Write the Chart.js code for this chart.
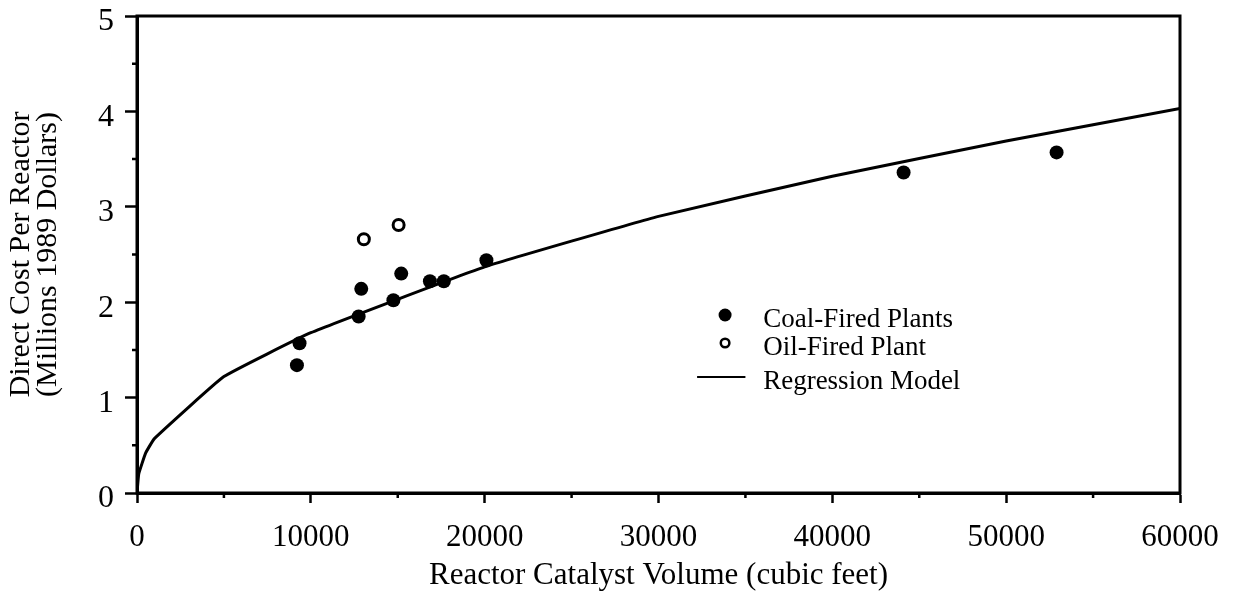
<!DOCTYPE html>
<html>
<head>
<meta charset="utf-8">
<script src="https://cdn.jsdelivr.net/npm/chart.js@4/dist/chart.umd.min.js"></script>
<style>
  html, body { margin: 0; padding: 0; background: #fff; }
  #wrap { width: 1236px; height: 594px; }
</style>
</head>
<body>
<div id="wrap"><canvas id="myChart" width="1236" height="594"></canvas></div>
<script>
// データ
var coalX = [9200, 9350, 12750, 12900, 14750, 15200, 16850, 17650, 20100, 44100, 52900];
var coalY = [1.34, 1.57, 1.85, 2.14, 2.02, 2.30, 2.22, 2.22, 2.44, 3.36, 3.57];
var oilX = [13050, 15050];
var oilY = [2.66, 2.81];
var modelX = [0, 100, 500, 1000, 5000, 10000, 20000, 30000, 40000, 50000, 60000];
var modelY = [0, 0.20, 0.42, 0.57, 1.22, 1.68, 2.37, 2.90, 3.32, 3.69, 4.03];
var xTicks = [0, 10000, 20000, 30000, 40000, 50000, 60000];
var yTicks = [0, 1, 2, 3, 4, 5];
var legendLabels = ["Coal-Fired Plants", "Oil-Fired Plant", "Regression Model"];

function toPoints(xs, ys) {
  var pts = [];
  for (var i = 0; i < xs.length; i++) pts.push({ x: xs[i], y: ys[i] });
  return pts;
}

var serif = "'Liberation Serif', 'DejaVu Serif', serif";

// 枠・補助目盛・凡例を描く
var framePlugin = {
  id: 'frame',
  afterDraw: function(chart) {
    var ctx = chart.ctx, a = chart.chartArea;
    var xs = chart.scales.x, ys = chart.scales.y;
    ctx.save();
    ctx.strokeStyle = '#000';
    ctx.lineWidth = 3;
    ctx.strokeRect(a.left, a.top, a.right - a.left, a.bottom - a.top);

    // 補助目盛
    ctx.lineWidth = 2.5;
    ctx.beginPath();
    for (var i = 0; i < xTicks.length - 1; i++) {
      var px = xs.getPixelForValue((xTicks[i] + xTicks[i + 1]) / 2);
      ctx.moveTo(px, a.bottom);
      ctx.lineTo(px, a.bottom + 5);
    }
    for (var j = 0; j < yTicks.length - 1; j++) {
      var py = ys.getPixelForValue((yTicks[j] + yTicks[j + 1]) / 2);
      ctx.moveTo(a.left, py);
      ctx.lineTo(a.left - 5, py);
    }
    ctx.stroke();

    // 凡例（データ座標で位置決め）
    var lx = xs.getPixelForValue(33830), tx = xs.getPixelForValue(36020);
    var rows = [ys.getPixelForValue(1.74), ys.getPixelForValue(1.447), ys.getPixelForValue(1.09)];
    ctx.font = "27px " + serif;
    ctx.fillStyle = '#000';
    ctx.textBaseline = 'alphabetic';
    ctx.beginPath();
    ctx.arc(lx, ys.getPixelForValue(1.866), 6.5, 0, Math.PI * 2);
    ctx.fill();
    ctx.beginPath();
    ctx.lineWidth = 2.5;
    ctx.arc(lx, ys.getPixelForValue(1.572), 4.3, 0, Math.PI * 2);
    ctx.stroke();
    ctx.beginPath();
    ctx.lineWidth = 2;
    ctx.moveTo(xs.getPixelForValue(32220), ys.getPixelForValue(1.216));
    ctx.lineTo(xs.getPixelForValue(35000), ys.getPixelForValue(1.216));
    ctx.stroke();
    for (var k = 0; k < legendLabels.length; k++) {
      ctx.fillText(legendLabels[k], tx, rows[k]);
    }
    ctx.restore();
  }
};

var ctx = document.getElementById("myChart").getContext("2d");
var myChart = new Chart(ctx, {
  type: 'scatter',
  data: {
    datasets: [
      {
        label: legendLabels[2],
        type: 'line',
        data: toPoints(modelX, modelY),
        borderColor: '#000',
        borderWidth: 3,
        pointRadius: 0,
        tension: 0.1,
        fill: false
      },
      {
        label: legendLabels[0],
        data: toPoints(coalX, coalY),
        backgroundColor: '#000',
        borderColor: '#000',
        pointRadius: 7,
        pointBorderWidth: 0
      },
      {
        label: legendLabels[1],
        data: toPoints(oilX, oilY),
        backgroundColor: '#fff',
        borderColor: '#000',
        pointRadius: 5.5,
        pointBorderWidth: 3
      }
    ]
  },
  options: {
    responsive: false,
    animation: false,
    layout: { padding: { top: 16, right: 56, left: 0, bottom: 0 } },
    plugins: {
      legend: { display: false },
      tooltip: { enabled: false }
    },
    scales: {
      x: {
        type: 'linear',
        min: 0, max: 60000,
        afterBuildTicks: function(s) { s.ticks = xTicks.map(function(v) { return { value: v }; }); },
        afterFit: function(s) { s.height = 101; s.paddingLeft = 0; s.paddingRight = 0; },
        border: { display: true, color: '#000', width: 3 },
        grid: { drawOnChartArea: false, color: '#000', tickLength: 10, tickWidth: 2.5 },
        ticks: {
          color: '#000', font: { family: serif, size: 31 }, padding: 16, maxRotation: 0,
          callback: function(v) { return String(v); }
        },
        title: {
          display: true,
          text: 'Reactor Catalyst Volume (cubic feet)',
          color: '#000',
          font: { family: serif, size: 31 },
          padding: { top: 0, bottom: 0 }
        }
      },
      y: {
        type: 'linear',
        min: 0, max: 5,
        afterBuildTicks: function(s) { s.ticks = yTicks.map(function(v) { return { value: v }; }); },
        afterFit: function(s) { s.width = 137; s.paddingTop = 0; s.paddingBottom = 0; },
        border: { display: true, color: '#000', width: 3 },
        grid: { drawOnChartArea: false, color: '#000', tickLength: 12, tickWidth: 2.5 },
        ticks: {
          color: '#000', font: { family: serif, size: 32 }, padding: 11, labelOffset: 6,
          callback: function(v) { return String(v); }
        },
        title: {
          display: true,
          text: ['Direct Cost Per Reactor', '(Millions 1989 Dollars)'],
          color: '#000',
          font: { family: serif, size: 30, lineHeight: 0.9 },
          padding: { top: 8, bottom: 0 }
        }
      }
    }
  },
  plugins: [framePlugin]
});
</script>
</body>
</html>
